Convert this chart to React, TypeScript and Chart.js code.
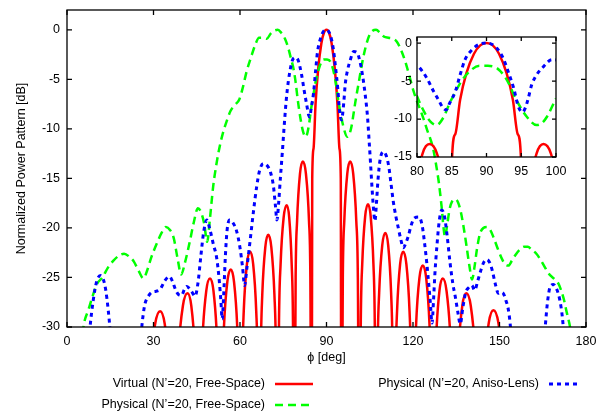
import React, { useEffect, useRef } from "react";
import { Chart, registerables } from "chart.js";

Chart.register(...registerables);

const FONT = "'Liberation Sans', Arial, Helvetica, sans-serif";
const FS = 12.5;

// ---------- labels & ticks ----------
const xTicksMain = [0, 30, 60, 90, 120, 150, 180];
const yTicksMain = [-30, -25, -20, -15, -10, -5, 0];
const xTicksInset = [80, 85, 90, 95, 100];
const yTicksInset = [-15, -10, -5, 0];
const legendLabels = [
  "Virtual (N\u2019=20, Free-Space)",
  "Physical (N\u2019=20, Free-Space)",
  "Physical (N\u2019=20, Aniso-Lens)",
];
const xTitle = "\u03D5 [deg]";
const yTitle = "Normalized Power Pattern [dB]";

// ---------- series: [phi (deg), normalized power (dB)] ----------
const virtualFreeSpace: number[][] = [
  [27.2, -50], [28.05, -40.1], [28.9, -34.4], [30.6, -29.65], [32.3, -28.4], [33.87, -29.65], [35.43, -34.4], [36.22, -40.1],
  [37.0, -50], [37.8, -38.3], [38.6, -32.6], [40.2, -27.85], [41.8, -26.6], [43.1, -27.85], [44.4, -32.6], [45.05, -38.3],
  [45.7, -50], [46.35, -36.8], [47.0, -31.1], [48.3, -26.35], [49.6, -25.1], [50.8, -26.35], [52.0, -31.1], [52.6, -36.8],
  [53.2, -50], [53.8, -35.9], [54.4, -30.2], [55.6, -25.45], [56.8, -24.2], [57.93, -25.45], [59.07, -30.2], [59.63, -35.9],
  [60.2, -50], [60.75, -34.1], [61.3, -28.4], [62.4, -23.65], [63.5, -22.4], [64.57, -23.65], [65.63, -28.4], [66.17, -34.1],
  [66.7, -50], [67.22, -32.4], [67.73, -26.7], [68.77, -21.95], [69.8, -20.7], [70.87, -21.95], [71.93, -26.7], [72.47, -32.4],
  [73.0, -50], [73.53, -29.4], [74.07, -23.7], [75.13, -18.95], [76.2, -17.7], [77.07, -18.95], [77.93, -23.7], [78.37, -29.4],
  [78.8, -50], [79.3, -25.0], [79.8, -19.3], [80.8, -14.55], [81.8, -13.3], [82.87, -14.55], [83.93, -19.3], [84.4, -25.0],
  [84.85, -50], [85.05, -15], [85.5, -12], [86.2, -7.5], [87.1, -4.0], [88.2, -1.4], [89.1, -0.3], [90.0, 0],
  [90.9, -0.3], [91.8, -1.4], [92.9, -4.0], [93.8, -7.5], [94.5, -12], [94.95, -15],
  [95.15, -50], [95.66, -25.0], [96.17, -19.3], [97.2, -14.55], [98.2, -13.3], [99.27, -14.55], [100.33, -19.3], [100.87, -25.0],
  [101.4, -50], [101.9, -29.3], [102.4, -23.6], [103.4, -18.85], [104.4, -17.6], [105.33, -18.85], [106.27, -23.6], [106.73, -29.3],
  [107.2, -50], [107.73, -32.2], [108.27, -26.5], [109.33, -21.75], [110.4, -20.5], [111.4, -21.75], [112.4, -26.5], [112.9, -32.2],
  [113.4, -50], [113.93, -34.1], [114.47, -28.4], [115.53, -23.65], [116.6, -22.4], [117.7, -23.65], [118.8, -28.4], [119.35, -34.1],
  [119.9, -50], [120.48, -35.5], [121.07, -29.8], [122.23, -25.05], [123.4, -23.8], [124.57, -25.05], [125.73, -29.8], [126.32, -35.5],
  [126.9, -50], [127.47, -36.8], [128.03, -31.1], [129.17, -26.35], [130.3, -25.1], [131.63, -26.35], [132.97, -31.1], [133.63, -36.8],
  [134.3, -50], [135.0, -38.3], [135.7, -32.6], [137.1, -27.85], [138.5, -26.6], [140.03, -27.85], [141.57, -32.6], [142.33, -38.3],
  [143.1, -50], [143.9, -40.0], [144.7, -34.3], [146.3, -29.55], [147.9, -28.3], [149.6, -29.55], [151.3, -34.3], [152.15, -40.0],
  [153.0, -50],
];

const physicalFreeSpace: number[][] = [
  [5.0, -32], [5.7, -30], [7.5, -28.2], [9.2, -26.6], [10.5, -25.6], [12.3, -25.0], [14.2, -24.0], [16.1, -23.3],
  [18.0, -22.8], [19.8, -22.6], [21.6, -22.9], [23.2, -23.4], [24.8, -24.3], [26.5, -25.1], [27.8, -24.3], [29.2, -23.0],
  [31.1, -21.6], [32.8, -20.5], [34.3, -19.9], [35.7, -20.2], [37.0, -21.0], [38.3, -23.0], [39.6, -24.7], [41.0, -23.4],
  [42.5, -21.5], [44.0, -19.4], [45.4, -18.0], [46.6, -18.5], [47.6, -19.6], [48.6, -21.4], [49.6, -19.0], [50.7, -15.8],
  [51.8, -13.6], [52.8, -12.0], [54.0, -10.5], [55.3, -9.3], [56.7, -8.2], [58.2, -7.6], [59.8, -7.0], [61.0, -5.8],
  [62.3, -4.2], [63.8, -2.8], [65.3, -1.5], [66.6, -0.8], [68.0, -0.8], [69.3, -0.9], [70.6, -0.4], [71.8, -0.1],
  [73.1, 0], [74.3, -0.3], [75.6, -0.9], [76.7, -1.8], [77.6, -2.8], [78.6, -4.0], [79.3, -5.3], [80.0, -7.0],
  [81.0, -9.0], [81.9, -10.3], [82.8, -10.8], [83.8, -9.8], [84.7, -7.9], [85.5, -6.5], [86.2, -5.3], [87.6, -3.7],
  [89.0, -3.0], [90.2, -3.0], [91.5, -3.3], [92.9, -4.8], [94.3, -7.5], [95.8, -9.7], [97.2, -10.8], [98.0, -10.5],
  [98.7, -9.7], [100.0, -7.3], [101.2, -5.3], [102.4, -3.3], [103.6, -1.7], [104.8, -0.6], [106.0, -0.1], [107.2, 0],
  [108.6, -0.3], [110.0, -0.7], [111.5, -0.8], [113.0, -0.9], [114.4, -1.2], [115.8, -2.0], [117.2, -3.1], [118.6, -4.5],
  [120.1, -6.1], [121.5, -7.3], [122.7, -8.2], [123.9, -9.2], [125.0, -10.2], [126.0, -11.0], [127.0, -12.0], [128.0, -13.6],
  [129.0, -15.5], [129.9, -17.8], [130.6, -20.0], [131.1, -20.9], [131.8, -19.8], [132.7, -18.1], [133.6, -17.3], [134.6, -17.1],
  [135.6, -17.4], [136.6, -18.4], [137.6, -20.0], [138.6, -21.9], [139.6, -23.9], [140.5, -25.2], [141.3, -24.0], [142.2, -22.1],
  [143.2, -20.6], [144.4, -20.0], [145.6, -19.9], [146.8, -20.2], [148.0, -21.0], [149.4, -22.1], [150.8, -23.1], [152.0, -23.7],
  [153.1, -23.8], [154.3, -23.3], [155.6, -22.7], [157.0, -22.2], [158.5, -21.9], [159.8, -21.9], [161.2, -22.2], [162.8, -22.6],
  [164.2, -23.2], [165.6, -23.9], [166.8, -24.5], [168.0, -24.9], [169.2, -25.2], [170.4, -25.6], [171.5, -26.4], [172.4, -27.3],
  [173.3, -28.5], [174.2, -29.6], [175.1, -31], [175.7, -32],
];

const physicalAnisoLens: number[][] = [
  [7.2, -33], [8.0, -30], [9.1, -27.3], [10.3, -25.4], [11.6, -24.8], [12.6, -25.2], [13.4, -26.2], [14.3, -28.3], [15.0, -30.5], [15.6, -33],
  [25.4, -33], [25.9, -30.2], [26.5, -28.6], [27.1, -27.6], [28.2, -26.9], [29.4, -26.5], [30.8, -26.4], [32.3, -26.2],
  [34.0, -25.3], [35.5, -24.9], [36.6, -25.4], [37.6, -26.2], [38.6, -26.7], [39.8, -26.8], [40.7, -26.2], [41.5, -25.9],
  [42.4, -26.1], [43.4, -26.5], [44.4, -26.9], [45.4, -25.6], [46.4, -22.9], [47.4, -20.4], [48.5, -19.2], [49.6, -20.2],
  [50.8, -21.7], [51.9, -23.0], [52.8, -25.3], [53.4, -27.5], [53.8, -29.2], [54.3, -27.0], [54.9, -23.0], [55.5, -20.3],
  [56.4, -19.2], [57.6, -19.5], [58.8, -20.3], [60.0, -22.0], [60.9, -24.0], [61.6, -25.8], [62.4, -24.0], [63.5, -21.3],
  [64.6, -18.5], [65.8, -15.8], [66.8, -14.2], [68.1, -13.5], [69.4, -13.7], [70.6, -14.4], [71.6, -15.8], [72.3, -17.8],
  [72.8, -19.2], [73.4, -17.5], [74.0, -15.0], [74.7, -12.3], [75.3, -9.8], [76.2, -6.6], [77.3, -4.2], [78.5, -2.9],
  [79.4, -2.8], [80.2, -3.1], [81.4, -4.6], [82.3, -6.2], [83.1, -7.5], [83.8, -8.6], [84.2, -8.8], [84.7, -7.9],
  [85.5, -6.4], [86.2, -4.2], [86.9, -2.2], [87.9, -0.9], [89.1, -0.1], [90.1, 0], [91.5, -0.7], [92.4, -2.0],
  [93.1, -3.7], [93.9, -5.9], [94.6, -8.4], [95.2, -9.1], [95.6, -8.5], [96.0, -7.3], [96.5, -5.5], [97.2, -4.2],
  [98.2, -3.1], [99.4, -2.2], [100.6, -2.3], [101.6, -3.2], [102.5, -4.6], [103.4, -6.5], [104.2, -8.7], [104.8, -11.3],
  [105.3, -13.6], [105.8, -16.0], [106.4, -18.4], [106.8, -19.3], [107.3, -17.6], [107.9, -15.0], [108.6, -13.1], [109.7, -12.3],
  [110.7, -12.7], [111.6, -13.8], [112.4, -15.6], [113.2, -17.4], [114.1, -18.9], [114.9, -20.0], [115.8, -21.2], [116.6, -22.0],
  [117.4, -21.6], [118.4, -20.8], [119.3, -19.8], [120.5, -19.0], [122.1, -18.9], [123.2, -19.8], [124.0, -21.5], [124.8, -23.6],
  [125.5, -25.8], [126.0, -27.5], [126.6, -29.6], [127.1, -27.4], [127.6, -24.6], [128.3, -21.8], [129.1, -19.3], [130.0, -18.2],
  [130.9, -18.8], [131.8, -20.7], [132.8, -23.4], [133.8, -25.6], [134.7, -27.0], [135.5, -28.4], [136.4, -29.7], [137.3, -28.0],
  [138.3, -26.5], [139.4, -26.0], [140.4, -25.8], [141.4, -26.3], [142.4, -25.4], [143.3, -24.5], [144.5, -23.5], [145.6, -23.2],
  [146.6, -23.5], [147.5, -24.3], [148.5, -25.6], [149.6, -26.6], [150.5, -26.5], [151.3, -26.6], [152.2, -27.3], [153.1, -28.3],
  [153.8, -30], [154.5, -33],
  [165.0, -33], [165.8, -30.2], [166.6, -27.6], [167.5, -26.0], [168.7, -25.7], [170.0, -26.3], [171.0, -27.4], [171.8, -29.0],
  [172.4, -31], [173.0, -33],
];

const RED = "#ff0000";
const GREEN = "#00ff00";
const BLUE = "#0000ff";

function makeDatasets() {
  const toXY = (arr: number[][]) => arr.map(([x, y]) => ({ x, y }));
  const common = {
    pointRadius: 0,
    cubicInterpolationMode: "monotone" as const,
    fill: false,
  };
  return [
    { ...common, label: legendLabels[0], data: toXY(virtualFreeSpace), borderColor: RED, borderWidth: 2.5, order: 3 },
    { ...common, label: legendLabels[1], data: toXY(physicalFreeSpace), borderColor: GREEN, borderWidth: 2.5, borderDash: [8, 5], order: 2 },
    { ...common, label: legendLabels[2], data: toXY(physicalAnisoLens), borderColor: BLUE, borderWidth: 3, borderDash: [4, 4], order: 1 },
  ];
}

function framePlugin(xt: number[], yt: number[], len: number) {
  return {
    id: "frame",
    afterDatasetsDraw(chart: any) {
      const { ctx, chartArea, scales } = chart;
      const { left, right, top, bottom } = chartArea;
      ctx.save();
      ctx.strokeStyle = "#000";
      ctx.lineWidth = 1.3;
      ctx.setLineDash([]);
      ctx.beginPath();
      for (const v of xt) {
        const px = scales.x.getPixelForValue(v);
        ctx.moveTo(px, bottom);
        ctx.lineTo(px, bottom - len);
        ctx.moveTo(px, top);
        ctx.lineTo(px, top + len);
      }
      for (const v of yt) {
        const py = scales.y.getPixelForValue(v);
        ctx.moveTo(left, py);
        ctx.lineTo(left + len, py);
        ctx.moveTo(right, py);
        ctx.lineTo(right - len, py);
      }
      ctx.stroke();
      ctx.strokeRect(left, top, right - left, bottom - top);
      ctx.restore();
    },
  };
}

const legendPlugin = {
  id: "customLegend",
  afterDraw(chart: any) {
    const { ctx, chartArea } = chart;
    ctx.save();
    ctx.fillStyle = "#000";
    ctx.font = `${FS}px ${FONT}`;
    ctx.textBaseline = "middle";
    ctx.textAlign = "center";
    ctx.fillText(xTitle, (chartArea.left + chartArea.right) / 2, 358);

    const items = [
      { text: legendLabels[0], tx: 265, y: 384, x0: 275, x1: 313, color: RED, dash: [] as number[], w: 2.5 },
      { text: legendLabels[1], tx: 265, y: 405, x0: 275, x1: 313, color: GREEN, dash: [8, 5], w: 2.5 },
      { text: legendLabels[2], tx: 539, y: 384, x0: 549, x1: 581, color: BLUE, dash: [4, 4], w: 3 },
    ];
    for (const it of items) {
      ctx.textAlign = "right";
      ctx.fillStyle = "#000";
      ctx.fillText(it.text, it.tx, it.y);
      ctx.beginPath();
      ctx.strokeStyle = it.color;
      ctx.lineWidth = it.w;
      ctx.setLineDash(it.dash);
      ctx.moveTo(it.x0, it.y);
      ctx.lineTo(it.x1, it.y);
      ctx.stroke();
    }
    ctx.restore();
  },
};

const tickFont = { family: FONT, size: FS };
const yTickFont = { family: FONT, size: FS, lineHeight: 0.2 };

export default function App() {
  const mainRef = useRef<HTMLCanvasElement>(null);
  const insetRef = useRef<HTMLCanvasElement>(null);

  useEffect(() => {
    const main = new Chart(mainRef.current as HTMLCanvasElement, {
      type: "line",
      data: { datasets: makeDatasets() as any },
      options: {
        animation: false,
        responsive: false,
        maintainAspectRatio: false,
        layout: { padding: { left: 0, top: 10, right: 23, bottom: 0 } },
        plugins: { legend: { display: false }, tooltip: { enabled: false } },
        scales: {
          x: {
            type: "linear",
            min: 0,
            max: 180,
            afterBuildTicks: (s: any) => { s.ticks = xTicksMain.map((v) => ({ value: v })); },
            afterFit: (s: any) => { s.height = 90; },
            ticks: { color: "#000", font: tickFont, padding: 7, autoSkip: false, maxRotation: 0 },
            grid: { display: false, drawTicks: false },
            border: { display: false },
          },
          y: {
            type: "linear",
            min: -30,
            max: 2,
            afterBuildTicks: (s: any) => { s.ticks = yTicksMain.map((v) => ({ value: v })); },
            afterFit: (s: any) => { s.width = 67; },
            ticks: { color: "#000", font: yTickFont, padding: 7, autoSkip: false },
            grid: { display: false, drawTicks: false },
            border: { display: false },
            title: { display: true, text: yTitle, color: "#000", font: tickFont, padding: { top: 14, bottom: 0 } },
          },
        },
      } as any,
      plugins: [framePlugin(xTicksMain, yTicksMain, 5), legendPlugin],
    });

    const inset = new Chart(insetRef.current as HTMLCanvasElement, {
      type: "line",
      data: { datasets: makeDatasets() as any },
      options: {
        animation: false,
        responsive: false,
        maintainAspectRatio: false,
        layout: { padding: { left: 0, top: 7, right: 24, bottom: 0 } },
        plugins: { legend: { display: false }, tooltip: { enabled: false } },
        scales: {
          x: {
            type: "linear",
            min: 80,
            max: 100,
            afterBuildTicks: (s: any) => { s.ticks = xTicksInset.map((v) => ({ value: v })); },
            afterFit: (s: any) => { s.height = 23; },
            ticks: { color: "#000", font: tickFont, padding: 7, autoSkip: false, maxRotation: 0 },
            grid: { display: false, drawTicks: false },
            border: { display: false },
          },
          y: {
            type: "linear",
            min: -15,
            max: 0.8,
            afterBuildTicks: (s: any) => { s.ticks = yTicksInset.map((v) => ({ value: v })); },
            afterFit: (s: any) => { s.width = 37; },
            ticks: { color: "#000", font: yTickFont, padding: 5, autoSkip: false },
            grid: { display: false, drawTicks: false },
            border: { display: false },
          },
        },
      } as any,
      plugins: [framePlugin(xTicksInset, yTicksInset, 4)],
    });

    return () => {
      main.destroy();
      inset.destroy();
    };
  }, []);

  return (
    <div style={{ position: "absolute", left: 0, top: 0, width: 609, height: 417, background: "#fff" }}>
      <canvas
        ref={mainRef}
        width={609}
        height={417}
        style={{ position: "absolute", left: 0, top: 0, width: 609, height: 417 }}
      />
      <canvas
        ref={insetRef}
        width={200}
        height={150}
        style={{ position: "absolute", left: 380, top: 30, width: 200, height: 150 }}
      />
    </div>
  );
}
